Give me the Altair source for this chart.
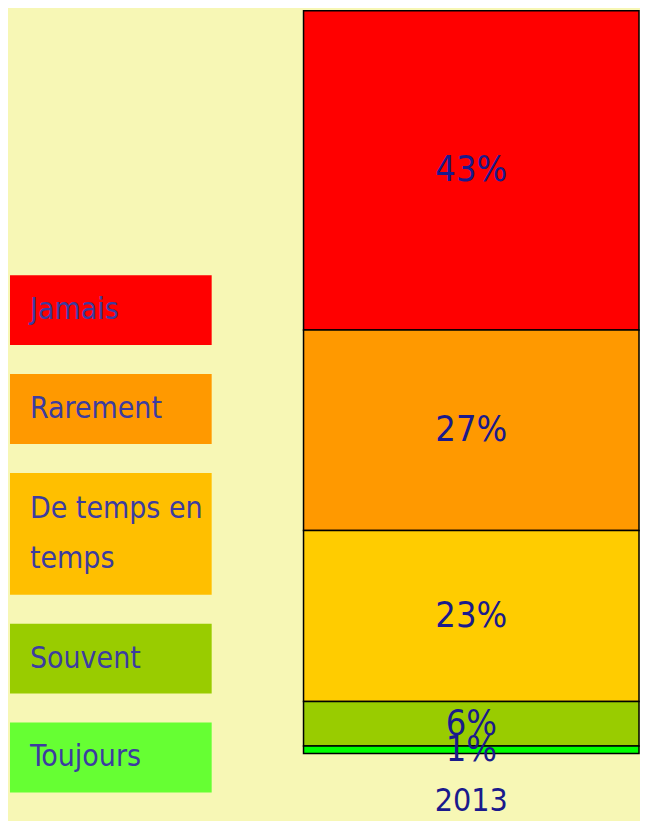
import altair as alt
import pandas as pd

# ---- data ----
year = "2013"
categories = ["Jamais", "Rarement", "De temps en temps", "Souvent", "Toujours"]
legend_lines = [["Jamais"], ["Rarement"], ["De temps en", "temps"], ["Souvent"], ["Toujours"]]
values = [43, 27, 23, 6, 1]
bar_colors = ["#FF0000", "#FF9900", "#FFCC00", "#99CC00", "#00FF00"]
legend_colors = ["#FF0000", "#FF9900", "#FFBF00", "#99CC00", "#66FF33"]

FONT = "DejaVu Sans Condensed, Liberation Sans Narrow, Liberation Sans"
BAR_TEXT = "#1A1A8C"
LEGEND_TEXT = "#3C3CA0"
BG = "#F7F7B5"

PANEL_H = 744
BAR_W = 336
LEG_W = 202
LINE_H = 50

# ---- bar data ----
n = len(categories)
bar_df = pd.DataFrame({
    "year": [year] * n,
    "category": categories,
    "value": values,
    "color": bar_colors,
    "rank": [n - 1 - i for i in range(n)],  # Toujours at bottom
})

# ---- legend layout (boxes sized by number of text lines, even gaps) ----
pad_h = 18
gap = 29
start = 265
tops, bottoms, text_y = [], [], []
y = start
for lines in legend_lines:
    h = pad_h + 52 * len(lines)
    tops.append(y)
    bottoms.append(y + h)
    text_y.append(y + h / 2 - (len(lines) - 1) * LINE_H / 2)
    y += h + gap

leg_df = pd.DataFrame({
    "category": categories,
    "text": legend_lines,
    "color": legend_colors,
    "top": tops,
    "bottom": bottoms,
    "ty": text_y,
    "x0": [0] * n,
    "x1": [LEG_W] * n,
    "tx": [20] * n,
})

xs = alt.Scale(domain=[0, LEG_W], nice=False, zero=False)
ys = alt.Scale(domain=[0, PANEL_H], nice=False, zero=False, reverse=True)

leg_base = alt.Chart(leg_df)
leg_boxes = leg_base.mark_rect().encode(
    x=alt.X("x0:Q", scale=xs, axis=None),
    x2="x1:Q",
    y=alt.Y("top:Q", scale=ys, axis=None),
    y2="bottom:Q",
    color=alt.Color("color:N", scale=None),
)
leg_text = leg_base.mark_text(
    font=FONT, fontSize=30, color=LEGEND_TEXT, align="left", baseline="middle", lineHeight=LINE_H
).encode(
    x=alt.X("tx:Q", scale=xs, axis=None),
    y=alt.Y("ty:Q", scale=ys, axis=None),
    text="text",
)
legend = alt.layer(leg_boxes, leg_text).properties(width=LEG_W, height=PANEL_H)

# ---- stacked bar ----
base = alt.Chart(bar_df).transform_stack(
    stack="value",
    groupby=["year"],
    as_=["y0", "y1"],
    sort=[alt.SortField("rank", order="ascending")],
).transform_calculate(
    mid="(datum.y0 + datum.y1) / 2",
    label="datum.value + '%'",
)

xband = alt.X(
    "year:N",
    scale=alt.Scale(paddingInner=0, paddingOuter=0),
    axis=alt.Axis(
        title=None, labelAngle=0, domain=False, ticks=False, labelPadding=32,
        labelFont=FONT, labelFontSize=32, labelColor=BAR_TEXT,
    ),
)
yq = alt.Scale(domain=[0, 100], nice=False)

bars = base.mark_bar(stroke="black", strokeWidth=1.5).encode(
    x=xband,
    y=alt.Y("y0:Q", scale=yq, axis=None),
    y2="y1:Q",
    color=alt.Color("color:N", scale=None),
)
labels = base.mark_text(font=FONT, fontSize=36, color=BAR_TEXT, baseline="middle").encode(
    x=xband,
    y=alt.Y("mid:Q", scale=yq, axis=None),
    text="label:N",
)
bar_chart = alt.layer(bars, labels).properties(width=BAR_W, height=PANEL_H)

chart = alt.hconcat(legend, bar_chart, spacing=91).properties(
    padding={"left": 2, "top": 1, "right": 0, "bottom": 4},
    background=BG,
).configure_view(stroke=None)

chart.save("out.html", embed_options={"renderer": "svg", "actions": False})
